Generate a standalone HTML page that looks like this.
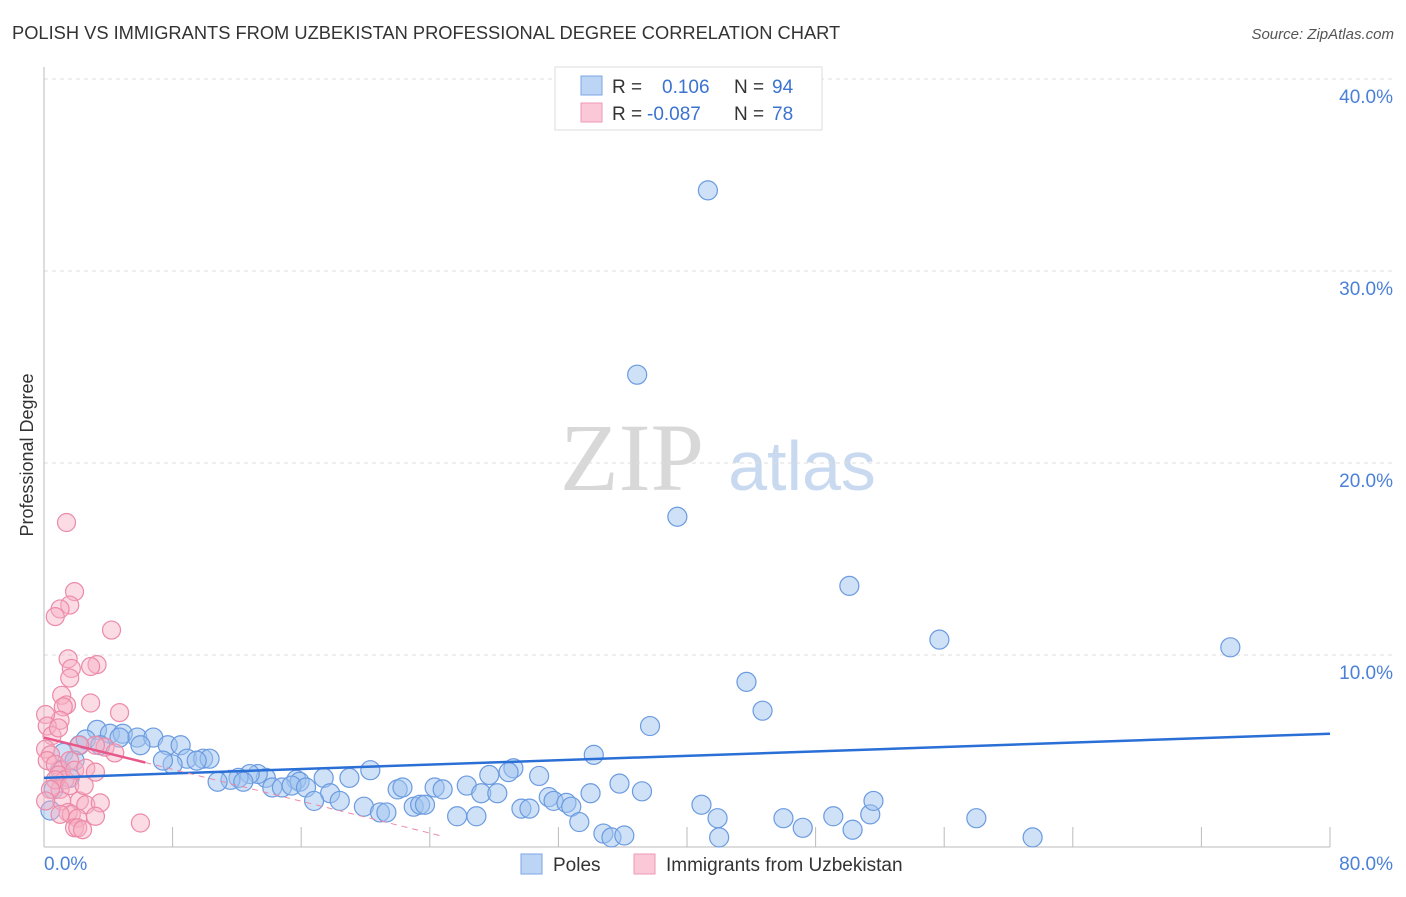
<!DOCTYPE html>
<html><head><meta charset="utf-8"><style>
body{margin:0;background:#fff;font-family:"Liberation Sans",sans-serif;}
svg text{font-family:"Liberation Sans",sans-serif;}
</style></head><body>
<svg id="chart" width="1406" height="892" viewBox="0 0 1406 892">
<text x="12" y="39" font-size="18.3" fill="#333">POLISH VS IMMIGRANTS FROM UZBEKISTAN PROFESSIONAL DEGREE CORRELATION CHART</text>
<text x="1394" y="39" font-size="15" fill="#555" font-style="italic" text-anchor="end">Source: ZipAtlas.com</text>
<g>
<text x="632" y="490" font-size="96" fill="#d8d8d8" text-anchor="middle" font-family="Liberation Serif, serif" style="font-family:'Liberation Serif',serif">ZIP</text>
<text x="802" y="490" font-size="70" fill="#c9daf0" text-anchor="middle">atlas</text>
</g>
<g id="grid"></g>
<g id="axes"></g>
<g id="marks"></g>
<text transform="translate(33,455) rotate(-90)" font-size="18" fill="#333" text-anchor="middle">Professional Degree</text>
<g>
<rect x="555" y="67" width="267" height="63" fill="#fff" stroke="#ddd"/>
<rect x="581" y="76" width="21" height="19" fill="#bcd5f5" stroke="#7ba6e5"/>
<rect x="581" y="103" width="21" height="19" fill="#fac8d6" stroke="#ef9ab4"/>
<text x="612" y="93" font-size="19" fill="#333">R = </text><text x="662" y="93" font-size="19" fill="#3b73d0">0.106</text>
<text x="734" y="93" font-size="19" fill="#333">N = </text><text x="772" y="93" font-size="19" fill="#3b73d0">94</text>
<text x="612" y="120" font-size="19" fill="#333">R = </text><text x="647" y="120" font-size="19" fill="#3b73d0">-0.087</text>
<text x="734" y="120" font-size="19" fill="#333">N = </text><text x="772" y="120" font-size="19" fill="#3b73d0">78</text>
</g>
<g>
<rect x="521" y="854" width="21" height="20" fill="#bcd5f5" stroke="#7ba6e5"/>
<text x="553" y="871" font-size="19" fill="#333">Poles</text>
<rect x="634" y="854" width="21" height="20" fill="#fac8d6" stroke="#ef9ab4"/>
<text x="666" y="871" font-size="19" fill="#333">Immigrants from Uzbekistan</text>
</g>
</svg>
<script>
const xTickLabels = ["0.0%", "80.0%"];
const yTicks = [10, 20, 30, 40];
const yTickLabels = ["10.0%", "20.0%", "30.0%", "40.0%"];
const polesX = [41.3,36.9,39.4,50.1,55.7,73.8,43.7,44.7,37.7,34.2,29.2,28.9,27.7,30.8,35.8,26.3,24.3,24.8,22.0,22.3,19.0,20.3,17.4,15.7,15.9,13.8,13.3,12.8,12.1,11.6,10.8,12.4,14.2,14.8,15.4,16.3,17.8,18.4,16.8,19.9,20.9,21.3,23.0,23.4,23.7,25.7,26.9,27.2,28.2,29.7,30.2,31.4,31.7,32.5,32.8,34.0,37.2,33.3,34.8,35.3,36.1,40.9,41.9,42.0,46.0,47.2,49.1,50.3,51.4,51.6,58.0,61.5,3.3,4.1,4.9,5.8,6.8,7.7,8.5,8.9,9.9,10.3,9.5,8.0,7.4,2.2,1.2,1.0,0.6,0.4,1.9,2.6,3.5,4.7,6.0,1.6];
const polesY = [34.2,24.6,17.2,13.6,10.8,10.4,8.6,7.1,6.3,4.8,4.1,3.9,3.75,3.7,3.3,3.2,3.1,3.0,3.0,3.1,3.6,4.0,3.6,3.5,3.4,3.6,3.8,3.8,3.6,3.5,3.4,3.4,3.1,3.1,3.2,3.1,2.8,2.4,2.4,2.1,1.8,1.8,2.1,2.2,2.2,1.6,1.6,2.8,2.8,2.0,2.0,2.6,2.4,2.3,2.1,2.8,2.9,1.3,0.7,0.5,0.6,2.2,1.5,0.5,1.5,1.0,1.6,0.9,1.7,2.4,1.5,0.5,6.1,5.9,5.9,5.7,5.7,5.3,5.3,4.6,4.6,4.6,4.5,4.3,4.5,5.3,4.9,4.0,3.0,1.9,4.5,5.6,5.3,5.7,5.3,3.6];
const uzbX = [1.4,1.9,1.6,1.0,0.7,4.2,1.5,1.7,1.6,3.3,2.9,1.1,1.4,1.2,2.9,1.0,4.7,0.1,0.2,0.5,0.9,3.8,4.4,3.2,0.1,0.4,0.2,0.7,1.1,0.9,1.3,1.6,1.9,2.2,2.6,3.2,1.0,2.2,2.6,3.5,1.1,1.5,1.7,2.1,3.2,1.9,2.1,6.0,0.7,0.4,0.1,1.6,2.5,1.0,2.4];
const uzbY = [16.9,13.3,12.6,12.4,12.0,11.3,9.8,9.3,8.8,9.5,9.4,7.9,7.4,7.3,7.5,6.6,7.0,6.9,6.3,5.8,6.2,5.2,4.9,5.3,5.1,4.8,4.5,4.3,4.0,3.75,3.5,4.5,4.0,5.3,4.1,3.9,3.0,2.4,2.2,2.3,2.4,1.8,1.7,1.5,1.6,1.0,1.0,1.25,3.5,3.0,2.4,3.2,3.2,1.7,0.9];
const polesTrend = [3.6, 5.9];
const uzbTrend = [5.7, 4.4, 0.6];
const uzbTrendX = [0, 6.3, 24.6];

const NS = "http://www.w3.org/2000/svg";
const sx = v => 44 + v * 16.075;
const sy = v => 847 - v * 19.2;
function mk(tag, attrs, parent){const e=document.createElementNS(NS,tag);for(const k in attrs)e.setAttribute(k,attrs[k]);parent.appendChild(e);return e;}
const grid=document.getElementById('grid'), axes=document.getElementById('axes'), marks=document.getElementById('marks');
yTicks.forEach((t,i)=>{
  const l=mk('line',{x1:44,x2:1393,y1:sy(t),y2:sy(t),stroke:'#ddd','stroke-dasharray':'4,4'},grid);
  
  
  const tx=mk('text',{x:1393,y:sy(t)+24,'font-size':19,fill:'#4a80d8','text-anchor':'end'},axes);
  tx.textContent=yTickLabels[i];
  
  
});
const ax=mk('line',{x1:44,x2:44,y1:67,y2:847,stroke:'#bbb'},axes);


const bx=mk('line',{x1:44,x2:1330,y1:847,y2:847,stroke:'#bbb'},axes);


for(let i=1;i<=10;i++){
  const t=mk('line',{x1:sx(i*8),x2:sx(i*8),y1:827,y2:847,stroke:'#bbb'},axes);
  
  
}
const xl0=mk('text',{x:44,y:870,'font-size':19,fill:'#4a80d8'},axes);xl0.textContent=xTickLabels[0];


const xl1=mk('text',{x:1393,y:870,'font-size':19,fill:'#4a80d8','text-anchor':'end'},axes);xl1.textContent=xTickLabels[1];



polesX.forEach((x,i)=>{
  const c=mk('circle',{cx:sx(x),cy:sy(polesY[i]),r:9.5,fill:'rgba(160,196,240,0.5)',stroke:'#6b9be0','stroke-width':1.2},marks);
  
  
});
uzbX.forEach((x,i)=>{
  const c=mk('circle',{cx:sx(x),cy:sy(uzbY[i]),r:9,fill:'rgba(246,175,195,0.45)',stroke:'#ec8aa8','stroke-width':1.2},marks);
  
  
});
const pt=mk('line',{x1:sx(0),y1:sy(polesTrend[0]),x2:sx(80),y2:sy(polesTrend[1]),stroke:'#2a6fd6','stroke-width':2.5},marks);


const ud=mk('line',{x1:sx(uzbTrendX[1]),y1:sy(uzbTrend[1]),x2:sx(uzbTrendX[2]),y2:sy(uzbTrend[2]),stroke:'#ec8aa8','stroke-width':1,'stroke-dasharray':'6,5'},marks);


const us=mk('line',{x1:sx(uzbTrendX[0]),y1:sy(uzbTrend[0]),x2:sx(uzbTrendX[1]),y2:sy(uzbTrend[1]),stroke:'#e8578a','stroke-width':2.5},marks);


</script>
</body></html>
